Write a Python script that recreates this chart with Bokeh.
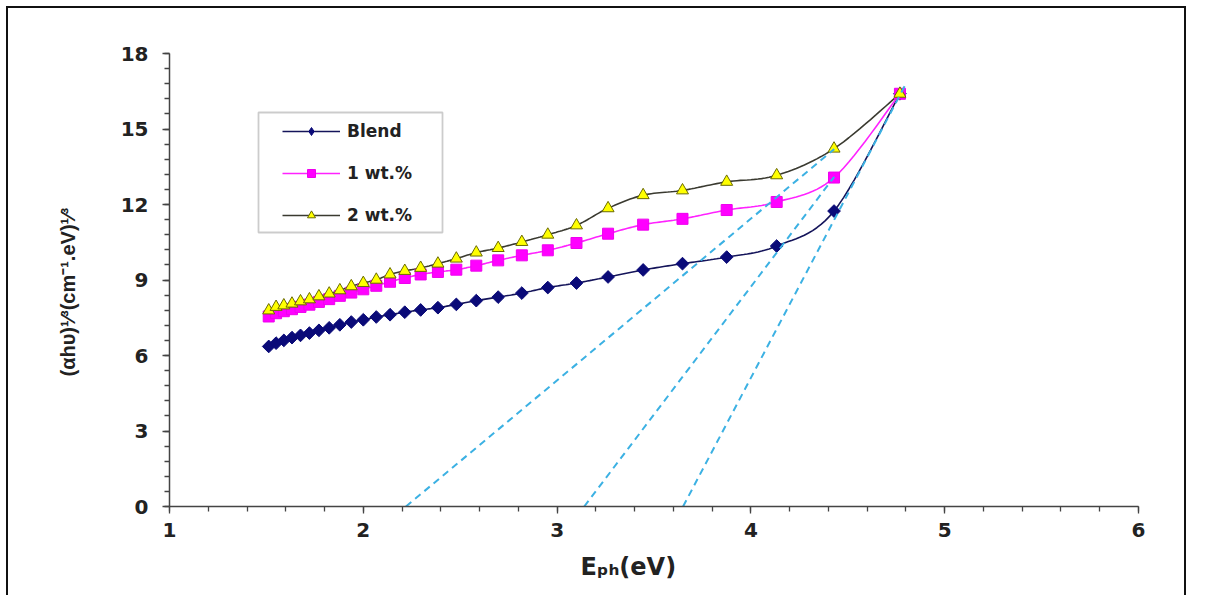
import numpy as np
from bokeh.plotting import figure
from bokeh.models import (ColumnDataSource, SingleIntervalTicker, Legend, LegendItem,
                          BoxAnnotation, Range1d, Title)
from bokeh.embed import file_html
from bokeh.resources import INLINE

# ---------------- data ----------------
energy = [1.512, 1.550, 1.590, 1.632, 1.676, 1.722, 1.771, 1.824, 1.879, 1.938,
          2.000, 2.067, 2.138, 2.214, 2.296, 2.385, 2.480, 2.583, 2.696, 2.818,
          2.952, 3.100, 3.263, 3.444, 3.647, 3.875, 4.133, 4.429, 4.769]
blend = [6.36, 6.49, 6.60, 6.71, 6.80, 6.89, 7.00, 7.10, 7.22, 7.33,
         7.42, 7.53, 7.62, 7.72, 7.81, 7.90, 8.03, 8.18, 8.32, 8.48,
         8.70, 8.88, 9.12, 9.40, 9.65, 9.91, 10.35, 11.74, 16.40]
wt1 = [7.55, 7.68, 7.76, 7.84, 7.93, 8.02, 8.13, 8.24, 8.37, 8.50,
       8.63, 8.77, 8.93, 9.08, 9.22, 9.32, 9.41, 9.57, 9.78, 9.98,
       10.18, 10.47, 10.84, 11.20, 11.43, 11.78, 12.10, 13.07, 16.40]
wt2 = [7.79, 7.93, 7.99, 8.06, 8.15, 8.23, 8.35, 8.46, 8.59, 8.75,
       8.88, 9.01, 9.22, 9.36, 9.48, 9.65, 9.85, 10.09, 10.27, 10.51,
       10.80, 11.17, 11.85, 12.37, 12.56, 12.90, 13.16, 14.22, 16.40]
series_names = ["Blend", "1 wt.%", "2 wt.%"]

# extrapolated (Tauc) lines
tan_x0 = [2.22, 3.14, 3.65]
tan_y0 = [0.0, 0.0, 0.0]
tan_x1 = [4.43, 4.43, 4.80]
tan_y1 = [14.20, 13.10, 16.80]

x_ticks_interval = 1
y_ticks_interval = 3
x_title = "Eₚₕ(eV)"
y_title = "(αhυ)¹⁄³(cm⁻¹.eV)¹⁄³"

# ---------------- layout ----------------
W, H = 1180, 589
OFFX, OFFY = 8, 8                    # canvas offset in window (margin + border)
FL, FR, FT, FB = 169, 1138, 53, 506  # frame edges in window pixels
XMIN, XMAX, YMIN, YMAX = 1, 6, 0, 18
KX = (FR - FL) / (XMAX - XMIN)
KY = (FB - FT) / (YMAX - YMIN)


def dx(px):
    return XMIN + (px - FL) / KX


def dy(py):
    return YMIN + (FB - py) / KY


p = figure(width=W, height=H, output_backend="svg", toolbar_location=None,
           x_range=Range1d(XMIN, XMAX), y_range=Range1d(YMIN, YMAX),
           min_border_left=FL - OFFX, min_border_right=(OFFX + W) - FR,
           min_border_top=FT - OFFY, min_border_bottom=(OFFY + H) - FB)
p.margin = (6, 0, 0, 6)
p.styles = {"border-top": "2px solid #111", "border-left": "2px solid #111",
            "border-right": "2px solid #111"}
p.outline_line_color = None
p.grid.visible = False
p.background_fill_color = "white"
p.border_fill_color = "white"

for ax in (p.xaxis[0], p.yaxis[0]):
    ax.axis_line_color = "#444444"
    ax.axis_line_width = 1.5
    ax.major_tick_line_color = "#444444"
    ax.minor_tick_line_color = "#444444"
    ax.major_tick_line_width = 1.3
    ax.minor_tick_line_width = 1.3
    ax.major_tick_out = 7
    ax.major_tick_in = 0
    ax.minor_tick_out = 5
    ax.minor_tick_in = 0
    ax.major_label_text_font = "DejaVu Sans"
    ax.major_label_text_font_style = "bold"
    ax.major_label_text_font_size = "20px"
    ax.major_label_text_color = "#222222"

p.xaxis[0].ticker = SingleIntervalTicker(interval=x_ticks_interval, num_minor_ticks=5)
p.yaxis[0].ticker = SingleIntervalTicker(interval=y_ticks_interval, num_minor_ticks=5)
p.xaxis[0].major_label_standoff = 9
p.yaxis[0].major_label_standoff = 14


def smooth(xs, ys, n=14):
    P = np.column_stack([(np.asarray(xs) - XMIN) * KX, np.asarray(ys) * KY])
    out = []
    t = np.linspace(0, 1, n, endpoint=False)[:, None]
    for i in range(len(P) - 1):
        p0 = P[i - 1] if i > 0 else P[i]
        p1, p2 = P[i], P[i + 1]
        p3 = P[i + 2] if i + 2 < len(P) else P[i + 1]
        c1 = p1 + (p2 - p0) / 6.0
        c2 = p2 - (p3 - p1) / 6.0
        out.append((1 - t) ** 3 * p1 + 3 * (1 - t) ** 2 * t * c1
                   + 3 * (1 - t) * t ** 2 * c2 + t ** 3 * p2)
    out.append(P[-1:])
    Q = np.vstack(out)
    return Q[:, 0] / KX + XMIN, Q[:, 1] / KY


src = ColumnDataSource(dict(x=energy, blend=blend, wt1=wt1, wt2=wt2))

styles = [
    dict(col="blend", line="#14145a", marker="square", angle=np.pi / 4, size=9,
         fill="#0a0a78", edge="#0a0a78", lmarker="diamond", lsize=12),
    dict(col="wt1", line="#ff22ff", marker="square", angle=0.0, size=11,
         fill="#ff00ff", edge="#ee00ee", lmarker="square", lsize=11),
    dict(col="wt2", line="#3a3a30", marker="triangle", angle=0.0, size=12,
         fill="#ffff00", edge="#6b6b00", lmarker="triangle", lsize=10),
]

line_renderers = []
legend_markers = []
for st in styles:
    xs, ys = smooth(energy, src.data[st["col"]])
    lr = p.line(xs, ys, line_color=st["line"], line_width=1.6)
    line_renderers.append(lr)

for st in styles:
    p.scatter("x", st["col"], source=src, marker=st["marker"], size=st["size"],
              angle=st["angle"], fill_color=st["fill"], line_color=st["edge"],
              line_width=1.0)
    # swatch used only by the legend (its single point is NaN, so nothing is drawn)
    lm = p.scatter(x=[float("nan")], y=[float("nan")], marker=st["lmarker"],
                   size=st["lsize"], fill_color=st["fill"], line_color=st["edge"],
                   line_width=1.0)
    legend_markers.append(lm)

tsrc = ColumnDataSource(dict(x0=tan_x0, y0=tan_y0, x1=tan_x1, y1=tan_y1))
p.segment("x0", "y0", "x1", "y1", source=tsrc, line_color="#3cb1e3",
          line_width=2, line_dash="7 5")

items = [LegendItem(label=name, renderers=[lr, lm])
         for lr, lm, name in zip(line_renderers, legend_markers, series_names)]

# legend frame box (inside the plot frame)
box = BoxAnnotation(left=dx(258), right=dx(442), top=dy(112), bottom=dy(232),
                    fill_color="white", fill_alpha=1.0, line_color="#555555",
                    line_width=1.8)
p.add_layout(box)

legend = Legend(items=items, location=(282 - 9 - FL, FB - 234),
                padding=9, margin=0, spacing=22, glyph_width=58, glyph_height=20,
                label_standoff=7, label_text_font="DejaVu Sans",
                label_text_font_style="bold", label_text_font_size="17px",
                label_text_color="#222222", border_line_alpha=0,
                background_fill_alpha=0)
p.add_layout(legend)

# ---------------- axis titles (as Titles in the side panels) ----------------
ytitle = Title(text=y_title, align="left", offset=FB - 376, vertical_align="top",
               standoff=73, text_font="Liberation Sans", text_font_style="bold",
               text_font_size="20px", text_color="#222222")
p.add_layout(ytitle, "left")

xtitle = Title(text=x_title, align="left", offset=580 - FL, vertical_align="bottom",
               standoff=22, text_font="DejaVu Sans", text_font_style="bold",
               text_font_size="24px", text_color="#222222")
p.add_layout(xtitle, "below")

open("out.html", "w").write(file_html(p, INLINE))
